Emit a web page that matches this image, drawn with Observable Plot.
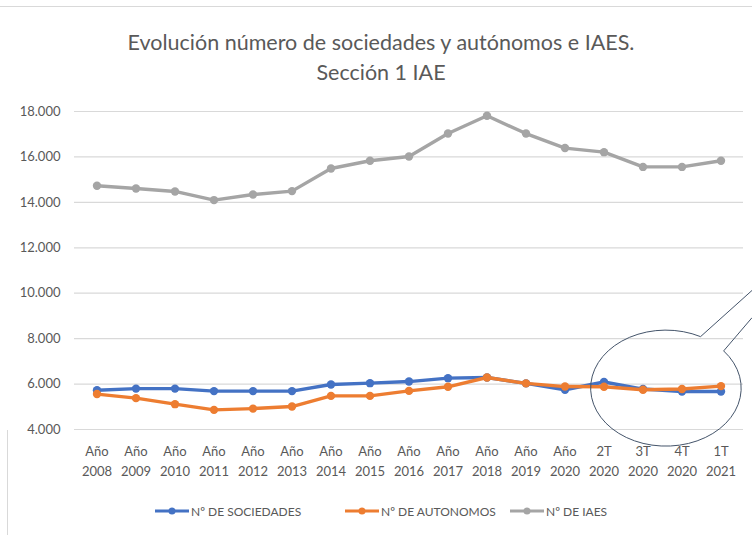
<!DOCTYPE html>
<html>
<head>
<meta charset="utf-8">
<script src="https://cdn.jsdelivr.net/npm/d3@7"></script>
<script src="https://cdn.jsdelivr.net/npm/@observablehq/plot@0.6"></script>
<style>
  html, body { margin: 0; padding: 0; background: #fff; }
  body { width: 752px; height: 535px; position: relative; overflow: hidden; font-family: Lato, "Open Sans", "Liberation Sans", sans-serif; color: #595959; }
  #title { height: 95px; box-sizing: border-box; padding-top: 27px; text-align: center; font-size: 21.5px; line-height: 30px; color: #595959; padding-left: 10px; }
  #chart svg { display: block; }
  #legend { position: absolute; top: 500px; left: 0; width: 752px; height: 22px; font-size: 12px; color: #595959; }
  .item { position: absolute; top: 0; height: 22px; display: flex; align-items: center; gap: 2px; white-space: nowrap; }
  .topline { position: absolute; left: 0; top: 6px; width: 752px; height: 1px; background: #d9d9d9; }
  .leftline { position: absolute; left: 7px; top: 430px; width: 1px; height: 105px; background: #d9d9d9; }
</style>
</head>
<body>
<div class="topline"></div>
<div class="leftline"></div>
<div id="title">Evolución número de sociedades y autónomos e IAES.<br>Sección 1 IAE</div>
<div id="chart"></div>
<div id="legend"></div>
<script>
const categories = ["Año\n2008","Año\n2009","Año\n2010","Año\n2011","Año\n2012","Año\n2013","Año\n2014","Año\n2015","Año\n2016","Año\n2017","Año\n2018","Año\n2019","Año\n2020","2T\n2020","3T\n2020","4T\n2020","1T\n2021"];
const sociedades = [5730,5800,5800,5690,5690,5690,5980,6040,6110,6260,6290,6030,5750,6090,5780,5670,5670];
const autonomos  = [5560,5380,5115,4865,4920,5010,5480,5480,5700,5880,6290,6030,5890,5880,5750,5780,5910];
const iaes       = [14730,14610,14480,14100,14345,14495,15490,15830,16020,17030,17810,17030,16390,16210,15560,15560,15830];
const seriesNames = ["Nº DE SOCIEDADES","Nº DE AUTONOMOS","Nº DE IAES"];
const seriesColors = ["#4472C4","#ED7D31","#A5A5A5"];
const yTicks = [4000,6000,8000,10000,12000,14000,16000,18000];

const rows = [];
[sociedades, autonomos, iaes].forEach((vals, s) => {
  vals.forEach((v, i) => rows.push({cat: categories[i], value: v, series: seriesNames[s]}));
});
const drawOrder = [2, 0, 1];
const locale = d3.formatLocale({decimal: ",", thousands: ".", grouping: [3], currency: ["", ""]});
const fmt = locale.format(",");

const marks = [
  Plot.gridY(yTicks, {stroke: "#d9d9d9", strokeOpacity: 1, strokeWidth: 1.2}),
  Plot.axisY(yTicks, {tickSize: 0, tickPadding: 14, tickFormat: fmt, fontSize: 13, fill: "#595959"}),
  Plot.axisX({tickSize: 0, tickPadding: 12, fontSize: 13, lineHeight: 1.55, fill: "#595959"})
];
drawOrder.forEach(s => {
  const data = rows.filter(r => r.series === seriesNames[s]);
  marks.push(Plot.line(data, {x: "cat", y: "value", stroke: seriesColors[s], strokeWidth: 3.4}));
  marks.push(Plot.dot(data, {x: "cat", y: "value", fill: seriesColors[s], r: 4.2}));
});

const chart = Plot.plot({
  width: 752,
  height: 390,
  marginTop: 16,
  marginBottom: 56,
  marginLeft: 74,
  marginRight: 9,
  style: {fontFamily: 'Lato, "Open Sans", sans-serif', color: "#595959", background: "transparent"},
  x: {type: "band", domain: categories, padding: 0, label: null},
  y: {domain: [4000, 18000], label: null},
  marks
});
document.getElementById("chart").appendChild(chart);

// Annotation: ellipse with a callout notch, positioned through the chart scales
const xs = chart.scale("x"), ys = chart.scale("y");
const bw = xs.bandwidth;
const cx = xs.apply(categories[14]) + 1.1 * bw;
const cy = ys.apply(5800);
const rx = 1.93 * bw, ry = 58;
const a1 = Math.atan2(-52 / ry, 35 / rx), a2 = Math.atan2(-38 / ry, 59 / rx);
const p1 = [cx + rx * Math.cos(a1), cy + ry * Math.sin(a1)];
const p2 = [cx + rx * Math.cos(a2), cy + ry * Math.sin(a2)];
const svg = d3.select(chart);
svg.append("path")
  .attr("d", `M${p1[0]},${p1[1]} A${rx},${ry} 0 1 0 ${p2[0]},${p2[1]}`)
  .attr("fill", "none").attr("stroke", "#44546A").attr("stroke-width", 1);
svg.append("path")
  .attr("d", `M${p1[0]},${p1[1]} L752,${ys.apply(10100)} M${p2[0]},${p2[1]} L752,${ys.apply(8900)}`)
  .attr("fill", "none").attr("stroke", "#44546A").attr("stroke-width", 1);

// Legend
const legend = document.getElementById("legend");
const legendLeft = [155, 345, 510];
seriesNames.forEach((name, s) => {
  const item = document.createElement("div");
  item.className = "item";
  item.style.left = legendLeft[s] + "px";
  item.innerHTML = `<svg width="34" height="10"><line x1="0" y1="5" x2="34" y2="5" stroke="${seriesColors[s]}" stroke-width="3"/><circle cx="17" cy="5" r="3.5" fill="${seriesColors[s]}"/></svg><span>${name}</span>`;
  legend.appendChild(item);
});
</script>
</body>
</html>
